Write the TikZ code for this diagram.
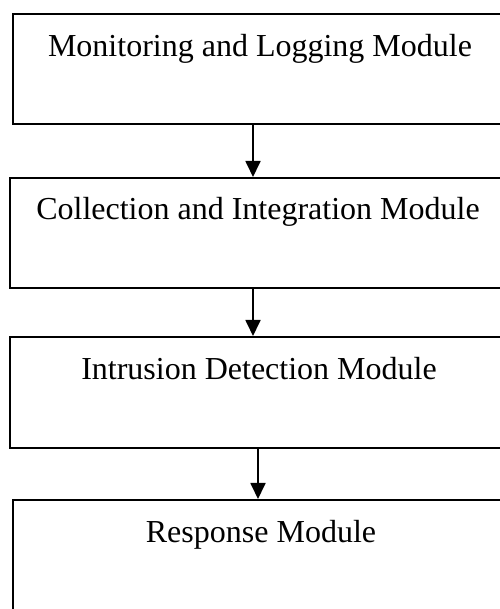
\documentclass[tikz,border=0pt]{standalone}
\usepackage{fontspec}
\setmainfont{Liberation Serif}
\usetikzlibrary{arrows.meta}
\begin{document}
\begin{tikzpicture}[x=1pt,y=1pt,
  modbox/.style={draw, line width=2pt, rectangle, inner sep=0pt, minimum width=497pt},
  modtext/.style={anchor=base, inner sep=0pt, font=\fontsize{32}{36}\selectfont},
  flow/.style={line width=1.8pt, -{Triangle[length=16pt,width=15pt]}}]
  \useasboundingbox (0,0) rectangle (499,609);

  % module boxes (they run past the right and bottom edges)
  \node[modbox, minimum height=110pt] (b1) at (261.5,540) {};
  \node[modbox, minimum height=110pt, minimum width=500pt] (b2) at (260,376) {};
  \node[modbox, minimum height=111pt, minimum width=500pt] (b3) at (260,216.5) {};
  \node[modbox, minimum height=120pt] (b4) at (261.5,49) {};

  % module names
  \node[modtext] (t1) at (260,552) {Monitoring and Logging Module};
  \node[modtext] (t2) at (258,389) {Collection and Integration Module};
  \node[modtext] (t3) at (259,229) {Intrusion Detection Module};
  \node[modtext] (t4) at (261,66) {Response Module};

  % arrow columns
  \coordinate (c1) at (253,0);
  \coordinate (c2) at (253,0);
  \coordinate (c3) at (258,0);

  \draw[flow] (b1.south -| c1) -- (b2.north -| c1);
  \draw[flow] (b2.south -| c2) -- (b3.north -| c2);
  \draw[flow] (b3.south -| c3) -- (b4.north -| c3);
\end{tikzpicture}
\end{document}
